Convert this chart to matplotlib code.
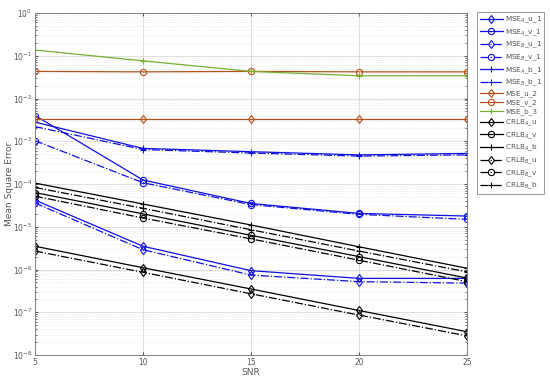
from matplotlib import pyplot as plt
from matplotlib.ticker import LogLocator, NullFormatter

snr = [5, 10, 15, 20, 25]

mse_a_u_1 = [4.2e-5, 3.5e-6, 9.4e-7, 6.2e-7, 6.2e-7]
mse_a_v_1 = [4.0e-3, 1.24e-4, 3.5e-5, 2.05e-5, 1.78e-5]
mse_b_u_1 = [3.6e-5, 2.9e-6, 7.4e-7, 5.2e-7, 4.8e-7]
mse_b_v_1 = [1.03e-3, 1.07e-4, 3.3e-5, 1.95e-5, 1.49e-5]
mse_a_b_1 = [2.8e-3, 6.8e-4, 5.7e-4, 4.8e-4, 5.2e-4]
mse_b_b_1 = [2.2e-3, 6.4e-4, 5.3e-4, 4.5e-4, 4.8e-4]
mse_u_2 = [3.3e-3, 3.3e-3, 3.3e-3, 3.3e-3, 3.3e-3]
mse_v_2 = [4.3e-2, 4.2e-2, 4.3e-2, 4.2e-2, 4.2e-2]
mse_b_3 = [0.136, 0.076, 0.043, 0.034, 0.034]
crlb_a_u = [3.5e-6, 1.1e-6, 3.5e-7, 1.1e-7, 3.5e-8]
crlb_a_v = [6.3e-5, 2.0e-5, 6.3e-6, 2.0e-6, 6.3e-7]
crlb_a_b = [1.05e-4, 3.4e-5, 1.1e-5, 3.4e-6, 1.07e-6]
crlb_b_u = [2.7e-6, 8.6e-7, 2.7e-7, 8.6e-8, 2.8e-8]
crlb_b_v = [5.2e-5, 1.6e-5, 5.2e-6, 1.65e-6, 5.2e-7]
crlb_b_b = [8.3e-5, 2.7e-5, 8.5e-6, 2.7e-6, 8.8e-7]

labels = ['MSE$_A$_u_1', 'MSE$_A$_v_1', 'MSE$_B$_u_1', 'MSE$_B$_v_1',
          'MSE$_A$_b_1', 'MSE$_B$_b_1', 'MSE_u_2', 'MSE_v_2', 'MSE_b_3',
          'CRLB$_A$_u', 'CRLB$_A$_v', 'CRLB$_A$_b',
          'CRLB$_B$_u', 'CRLB$_B$_v', 'CRLB$_B$_b']
series = [mse_a_u_1, mse_a_v_1, mse_b_u_1, mse_b_v_1, mse_a_b_1, mse_b_b_1,
          mse_u_2, mse_v_2, mse_b_3,
          crlb_a_u, crlb_a_v, crlb_a_b, crlb_b_u, crlb_b_v, crlb_b_b]

blue = '#1010e0'
orange = '#b8501c'
green = '#77b030'
styles = [
    (blue, '-', 'd'), (blue, '-', 'o'), (blue, '-.', 'd'), (blue, '-.', 'o'),
    (blue, '-', '+'), (blue, '-.', '+'),
    (orange, '-', 'd'), (orange, '-', 'o'), (green, '-', '+'),
    ('k', '-', 'd'), ('k', '-', 'o'), ('k', '-', '+'),
    ('k', '-.', 'd'), ('k', '-.', 'o'), ('k', '-.', '+'),
]

fig = plt.figure(figsize=(5.5, 3.88), dpi=100)
ax = fig.add_axes([35 / 550, 1 - 355 / 388, 432 / 550, 342 / 388])

for y, lab, (c, ls, m) in zip(series, labels, styles):
    ax.plot(snr, y, color=c, linestyle=ls, marker=m, markersize=4.5,
            markerfacecolor='none', markeredgecolor=c, linewidth=0.9,
            markeredgewidth=0.8, label=lab)

ax.set_yscale('log')
ax.set_xlim(5, 25)
ax.set_ylim(1e-8, 1)
ax.set_xticks(snr)
ax.yaxis.set_major_locator(LogLocator(base=10, numticks=20))
ax.yaxis.set_minor_locator(LogLocator(base=10, subs=range(2, 10), numticks=20))
ax.yaxis.set_minor_formatter(NullFormatter())
ax.grid(True, which='major', color='#d0d0d0', linewidth=0.5, linestyle='-')
ax.grid(True, which='minor', axis='y', color='#e0e0e0', linewidth=0.5, linestyle=':')
ax.tick_params(which='both', direction='in', labelsize=5.5, colors='#555555',
               top=True, right=True, length=2.5, pad=2)
ax.tick_params(which='minor', length=1.5)
for sp in ax.spines.values():
    sp.set_color('#808080')
    sp.set_linewidth(0.7)

ax.set_xlabel('SNR', fontsize=6.5, color='#555555', labelpad=1)
ax.set_ylabel('Mean Square Error', fontsize=6.5, color='#555555')
ax.yaxis.set_label_coords(-0.048, 0.5)

leg = ax.legend(loc='upper left', bbox_to_anchor=(477 / 550, 1 - 12 / 388),
                bbox_transform=fig.transFigure, fontsize=5.2, frameon=True,
                fancybox=False, borderpad=0.35, labelspacing=0.3,
                handlelength=3.2, handletextpad=0.3, borderaxespad=0)
leg.get_frame().set_edgecolor('#808080')
leg.get_frame().set_linewidth(0.7)
for t in leg.get_texts():
    t.set_color('#555555')

plt.savefig('out.png', dpi=100)
